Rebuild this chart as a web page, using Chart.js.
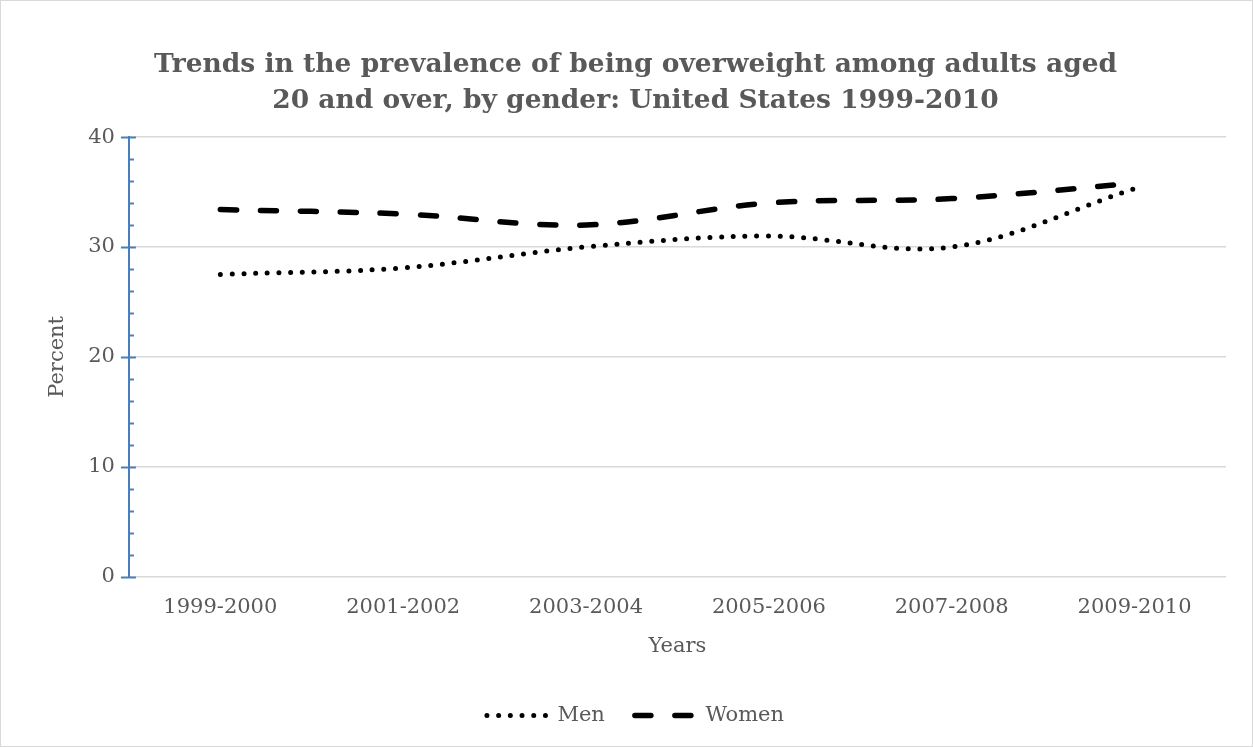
<!DOCTYPE html>
<html>
<head>
<meta charset="utf-8">
<script src="https://cdn.jsdelivr.net/npm/chart.js@4.4.1/dist/chart.umd.min.js"></script>
<style>
    html, body { margin: 0; padding: 0; background: #fff; }
    .wrap { position: relative; width: 1253px; height: 747px; box-sizing: border-box; border: 1px solid #d9d9d9; }
    canvas { display: block; }
</style>
</head>
<body>
<div class="wrap"><canvas id="trendChart" width="1251" height="745"></canvas></div>
<script>
// Data
const years = ['1999-2000', '2001-2002', '2003-2004', '2005-2006', '2007-2008', '2009-2010'];
const men = [27.5, 28.1, 30.0, 31.0, 30.0, 35.3];
const women = [33.4, 33.0, 32.0, 34.0, 34.4, 35.8];
const yTicks = [0, 10, 20, 30, 40];

const textColor = '#595959';
const serif = "'DejaVu Serif', serif";
const menDash = [0, 11.7];
const womenDash = [16, 24];

// Blue y axis tick marks (major crossing, minor inside)
const axisTicks = {
    id: 'axisTicks',
    afterDraw(chart) {
        const y = chart.scales.y;
        const x0 = y.right;
        const ctx = chart.ctx;
        ctx.save();
        ctx.strokeStyle = '#4a7ebb';
        ctx.lineWidth = 2;
        for (let v = 0; v <= 40; v += 2) {
            const py = Math.round(y.getPixelForValue(v)) + 0.5;
            ctx.beginPath();
            if (v % 10 === 0) {
                ctx.moveTo(x0 - 8, py);
                ctx.lineTo(x0 + 7, py);
            } else {
                ctx.moveTo(x0, py);
                ctx.lineTo(x0 + 5, py);
            }
            ctx.stroke();
        }
        ctx.restore();
    }
};

const ctx = document.getElementById('trendChart').getContext('2d');
const trendChart = new Chart(ctx, {
    type: 'line',
    data: {
        labels: years,
        datasets: [{
            label: 'Men',
            data: men,
            borderColor: '#000',
            backgroundColor: '#000',
            borderWidth: 5,
            borderDash: menDash,
            borderCapStyle: 'round',
            pointRadius: 0,
            tension: 0.35,
            fill: false
        }, {
            label: 'Women',
            data: women,
            borderColor: '#000',
            backgroundColor: '#000',
            borderWidth: 5.5,
            borderDash: womenDash,
            borderCapStyle: 'round',
            pointRadius: 0,
            tension: 0.35,
            fill: false
        }]
    },
    options: {
        responsive: false,
        animation: false,
        devicePixelRatio: 1,
        layout: {
            padding: { top: 10, left: 44, right: 26, bottom: 10 }
        },
        scales: {
            x: {
                offset: true,
                grid: { display: false, drawTicks: false },
                border: { display: false },
                ticks: {
                    color: textColor,
                    font: { family: serif, size: 21 },
                    padding: 18
                },
                title: {
                    display: true,
                    text: 'Years',
                    color: textColor,
                    font: { family: serif, size: 21 },
                    padding: { top: -4, bottom: 16 }
                }
            },
            y: {
                min: 0,
                max: 40,
                afterBuildTicks(scale) {
                    scale.ticks = yTicks.map(v => ({ value: v }));
                },
                grid: { color: '#d9d9d9', lineWidth: 1.5, drawTicks: false },
                border: { display: true, color: '#4a7ebb', width: 2 },
                ticks: {
                    color: textColor,
                    font: { family: serif, size: 21 },
                    padding: 14
                },
                title: {
                    display: true,
                    text: 'Percent',
                    color: textColor,
                    font: { family: serif, size: 21 },
                    padding: { top: 0, bottom: 4 }
                }
            }
        },
        plugins: {
            title: {
                display: true,
                text: ['Trends in the prevalence of being overweight among adults aged',
                       '20 and over, by gender: United States 1999-2010'],
                color: textColor,
                font: { family: serif, size: 26.5, weight: 'bold', lineHeight: 1.36 },
                padding: { top: 36, bottom: 18 }
            },
            legend: {
                position: 'bottom',
                labels: {
                    color: textColor,
                    font: { family: serif, size: 21 },
                    usePointStyle: true,
                    pointStyleWidth: 60,
                    boxHeight: 6,
                    padding: 30,
                    generateLabels(chart) {
                        return chart.data.datasets.map((ds, i) => ({
                            text: ds.label,
                            datasetIndex: i,
                            fillStyle: '#000',
                            strokeStyle: '#000',
                            lineWidth: ds.borderWidth,
                            lineDash: ds.borderDash,
                            lineCap: 'round',
                            pointStyle: 'line',
                            fontColor: textColor,
                            hidden: false
                        }));
                    }
                }
            },
            tooltip: { enabled: false }
        }
    },
    plugins: [axisTicks]
});
</script>
</body>
</html>
